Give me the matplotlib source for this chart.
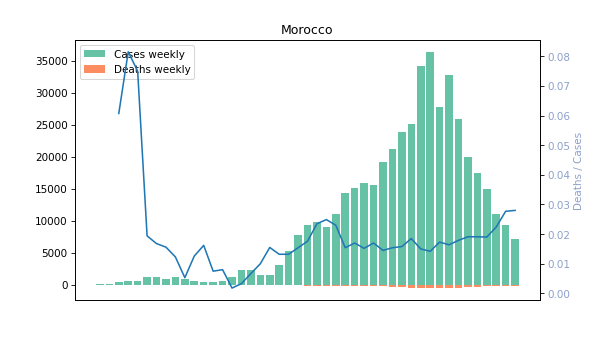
import matplotlib
matplotlib.use("Agg")
import matplotlib.pyplot as plt
import numpy as np

country = "Morocco"

# weekly values
cases_weekly = [150, 150, 470, 625, 625, 1250, 1250, 940, 1250, 940,
                625, 470, 470, 625, 1250, 2240, 2240, 1560, 1560, 3125,
                5310, 7810, 9375, 9790, 9060, 11090, 14370, 15160, 15940, 15620,
                19220, 21250, 23900, 25160, 34220, 36400, 27810, 32810, 25940, 20000,
                17500, 15000, 11090, 9375, 7190]
deaths_weekly = [0, 0, 29, 51, 47, 24, 21, 15, 15, 5,
                 8, 8, 4, 5, 2, 7, 15, 16, 24, 41,
                 70, 120, 165, 230, 226, 255, 221, 258, 242, 266,
                 279, 327, 378, 465, 513, 517, 481, 538, 464, 382,
                 334, 285, 248, 260, 201]
ratio = [np.nan, np.nan, 0.0607, 0.0815, 0.0750, 0.0194, 0.0168, 0.0156, 0.0123, 0.0053,
         0.0126, 0.0162, 0.0075, 0.0080, 0.0018, 0.0033, 0.0067, 0.0100, 0.0155, 0.0132,
         0.0132, 0.0154, 0.0176, 0.0235, 0.0249, 0.0230, 0.0154, 0.0170, 0.0152, 0.0170,
         0.0145, 0.0154, 0.0158, 0.0185, 0.0150, 0.0142, 0.0173, 0.0164, 0.0179, 0.0191,
         0.0191, 0.0190, 0.0224, 0.0277, 0.0280]

colors = plt.get_cmap("Set2").colors
x = np.arange(len(cases_weekly))

fig, ax = plt.subplots(figsize=(8, 4.5), dpi=75)
ax.bar(x, cases_weekly, color=colors[0], label="Cases weekly")
ax.bar(x, -np.array(deaths_weekly), color=colors[1], label="Deaths weekly")
ax.set_xticks([])
ax.legend(loc="upper left")
ax.set_title(country)

ax2 = ax.twinx()
ax2.plot(x, ratio, color="tab:blue")
ax2.set_ylabel("Deaths / Cases", color=colors[2])
ax2.tick_params(axis="y", labelcolor=colors[2])

fig.savefig("out.png", dpi=75)
